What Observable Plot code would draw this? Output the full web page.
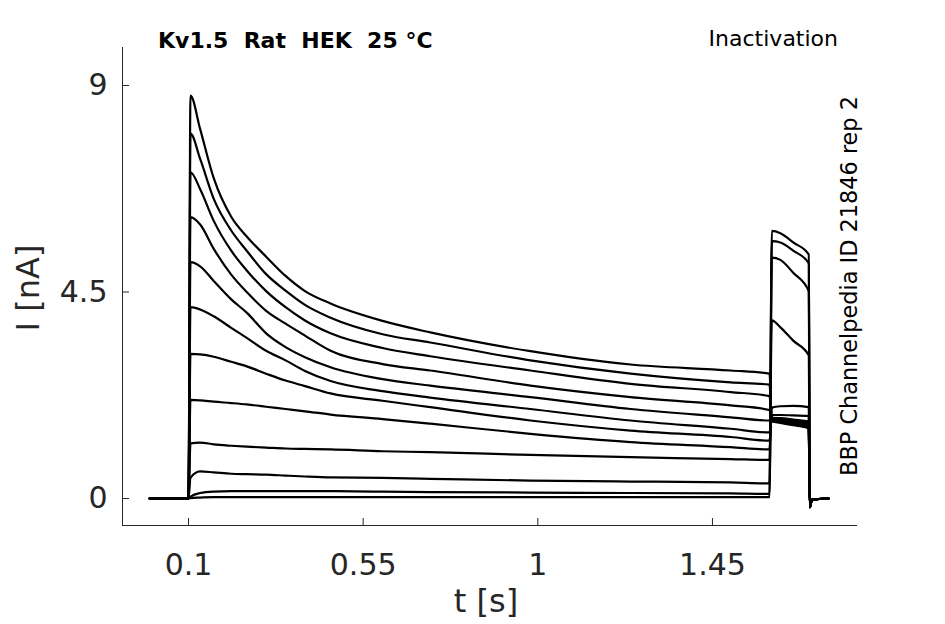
<!DOCTYPE html>
<html>
<head>
<meta charset="utf-8">
<script src="https://cdn.jsdelivr.net/npm/d3@7"></script>
<script src="https://cdn.jsdelivr.net/npm/@observablehq/plot@0.6"></script>
<style>
  html, body { margin: 0; padding: 0; background: #fff; }
  #chart { width: 945px; height: 624px; }
</style>
</head>
<body>
<div id="chart"></div>
<script>
// ---- data ----
const xTicks = [0.1, 0.55, 1, 1.45];
const yTicks = [0, 4.5, 9];
const xDomain = [-0.0701, 1.8237];
const yDomain = [-0.588, 9.828];

// sample times (s)
const prepulseT = [0, 0.1, 0.105, 0.13, 0.165, 0.21, 0.25, 0.3, 0.35, 0.4, 0.466, 0.6, 0.723, 0.981, 1.239, 1.497, 1.597];
const testT = [1.603, 1.625, 1.658, 1.698];
const tailT = [1.701, 1.706, 1.749];

// prepulse currents (nA), one array per sweep
const sweep1  = [0, 0, 8.78, 8.05, 6.98, 6.14, 5.71, 5.27, 4.85, 4.52, 4.25, 3.87, 3.62, 3.21, 2.92, 2.79, 2.72];
const sweep2  = [0, 0, 7.95, 7.40, 6.53, 5.84, 5.40, 4.89, 4.53, 4.22, 3.94, 3.58, 3.40, 3.01, 2.72, 2.53, 2.48];
const sweep3  = [0, 0, 7.11, 6.74, 6.05, 5.40, 4.97, 4.52, 4.17, 3.88, 3.60, 3.28, 3.10, 2.79, 2.50, 2.32, 2.23];
const sweep4  = [0, 0, 6.13, 5.97, 5.44, 4.88, 4.50, 4.09, 3.81, 3.55, 3.22, 2.93, 2.79, 2.46, 2.21, 2.03, 1.93];
const sweep5  = [0, 0, 5.15, 5.06, 4.74, 4.34, 4.05, 3.60, 3.30, 3.08, 2.86, 2.60, 2.46, 2.21, 1.95, 1.77, 1.70];
const sweep6  = [0, 0, 4.17, 4.12, 3.97, 3.72, 3.50, 3.22, 3.01, 2.78, 2.56, 2.34, 2.20, 1.95, 1.70, 1.52, 1.44];
const sweep7  = [0, 0, 3.15, 3.14, 3.09, 2.98, 2.88, 2.72, 2.57, 2.45, 2.29, 2.13, 1.99, 1.70, 1.48, 1.34, 1.26];
const sweep8  = [0, 0, 2.15, 2.14, 2.11, 2.08, 2.05, 2.00, 1.95, 1.90, 1.83, 1.73, 1.63, 1.41, 1.23, 1.12, 1.07];
const sweep9  = [0, 0, 1.20, 1.22, 1.18, 1.15, 1.13, 1.11, 1.09, 1.08, 1.07, 1.03, 1.01, 0.95, 0.90, 0.86, 0.84];
const sweep10 = [0, 0, 0.45, 0.59, 0.57, 0.54, 0.53, 0.52, 0.50, 0.48, 0.46, 0.45, 0.43, 0.39, 0.37, 0.35, 0.33];
const sweep11 = [0, 0, 0.04, 0.12, 0.15, 0.16, 0.16, 0.16, 0.16, 0.16, 0.16, 0.15, 0.14, 0.13, 0.12, 0.11, 0.10];
const sweep12 = [0, 0, 0.01, 0.02, 0.03, 0.03, 0.03, 0.03, 0.03, 0.03, 0.03, 0.03, 0.03, 0.03, 0.03, 0.03, 0.03];

// test-pulse currents (nA), same sweep order
const test1  = [1.68, 1.65, 1.60, 1.53];
const test2  = [1.69, 1.66, 1.61, 1.55];
const test3  = [1.70, 1.68, 1.63, 1.57];
const test4  = [1.72, 1.70, 1.66, 1.60];
const test5  = [1.74, 1.72, 1.69, 1.64];
const test6  = [1.76, 1.75, 1.72, 1.68];
const test7  = [1.82, 1.82, 1.81, 1.80];
const test8  = [1.98, 2.01, 2.02, 1.99];
const test9  = [3.88, 3.73, 3.44, 3.12];
const test10 = [5.25, 5.20, 4.92, 4.52];
const test11 = [5.61, 5.58, 5.40, 5.13];
const test12 = [5.83, 5.78, 5.58, 5.32];

// tail after the test pulse (nA)
const tailI = [-0.19, -0.03, 0.0];

const prepulses = [sweep1, sweep2, sweep3, sweep4, sweep5, sweep6, sweep7, sweep8, sweep9, sweep10, sweep11, sweep12];
const tests = [test1, test2, test3, test4, test5, test6, test7, test8, test9, test10, test11, test12];

const times = [...prepulseT, ...testT, ...tailT];
const rows = prepulses.flatMap((pre, i) => {
  const vals = [...pre, ...tests[i], ...tailI];
  return times.map((t, j) => ({sweep: i, t, I: vals[j]}));
});

const W = 945, H = 624;
const mL = 122, mR = 88, mT = 47, mB = 99;
const frameW = W - mL - mR, frameH = H - mT - mB;
const axisColor = "#262626";

const plot = Plot.plot({
  width: W, height: H,
  marginLeft: mL, marginRight: mR, marginTop: mT, marginBottom: mB,
  style: {fontFamily: "DejaVu Sans", fontSize: "30px", color: axisColor, background: "#fff", overflow: "visible"},
  x: {domain: xDomain},
  y: {domain: yDomain},
  marks: [
    Plot.ruleX([xDomain[0]], {stroke: axisColor, strokeWidth: 1}),
    Plot.ruleY([yDomain[0]], {stroke: axisColor, strokeWidth: 1}),
    Plot.tickX(xTicks, {x: d => d, insetTop: frameH - 7, stroke: axisColor, strokeWidth: 1}),
    Plot.tickY(yTicks, {y: d => d, insetRight: frameW - 7, stroke: axisColor, strokeWidth: 1}),
    Plot.axisX(xTicks, {tickSize: 0, tickPadding: 28, label: null, fontSize: 30, tickFormat: d => String(d)}),
    Plot.axisY(yTicks, {tickSize: 0, tickPadding: 15, label: null, fontSize: 30, tickFormat: d => String(d)}),
    Plot.line(rows, {x: "t", y: "I", z: "sweep", stroke: "black", strokeWidth: 2.2, curve: "monotone-x"})
  ]
});

document.getElementById("chart").appendChild(plot);

// titles and labels
const svg = d3.select(plot);
svg.append("text")
  .attr("x", 158).attr("y", 48).attr("text-anchor", "start")
  .attr("font-family", "DejaVu Sans").attr("font-weight", "bold").attr("font-size", 22)
  .attr("fill", "#000").style("white-space", "pre")
  .text("Kv1.5  Rat  HEK  25 °C");
svg.append("text")
  .attr("x", 838).attr("y", 46).attr("text-anchor", "end")
  .attr("font-family", "DejaVu Sans").attr("font-size", 22)
  .attr("fill", "#000")
  .text("Inactivation");
svg.append("text")
  .attr("transform", "translate(857,286) rotate(-90)").attr("text-anchor", "middle")
  .attr("font-family", "DejaVu Sans").attr("font-size", 22.4)
  .attr("fill", "#000")
  .text("BBP Channelpedia ID 21846 rep 2");
svg.append("text")
  .attr("transform", "translate(39,288) rotate(-90)").attr("text-anchor", "middle")
  .attr("font-family", "DejaVu Sans").attr("font-size", 32)
  .attr("fill", axisColor)
  .text("I [nA]");
svg.append("text")
  .attr("x", 486).attr("y", 612).attr("text-anchor", "middle")
  .attr("font-family", "DejaVu Sans").attr("font-size", 32)
  .attr("fill", axisColor)
  .text("t [s]");
</script>
</body>
</html>
